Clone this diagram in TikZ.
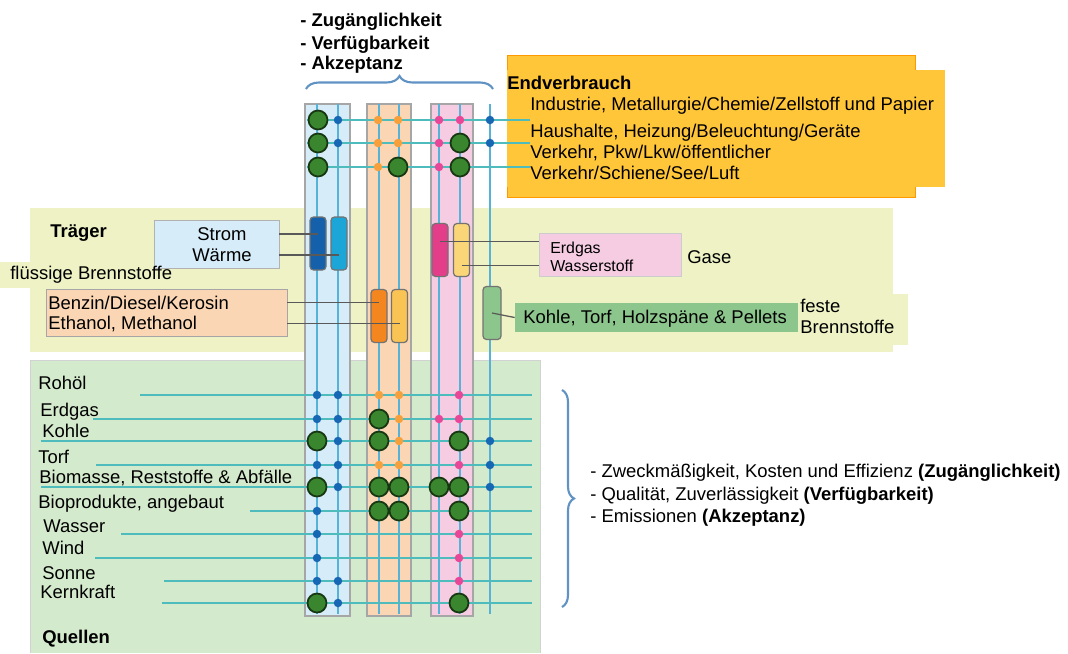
\documentclass[tikz,border=0pt]{standalone}
\usepackage{fontspec}
\setmainfont{Liberation Sans}[Scale=1.05]
\usepackage{xcolor}
\usepackage{tikz}
\usetikzlibrary{positioning, calc, decorations.pathreplacing}

\definecolor{elcol}{RGB}{214,236,248}
\definecolor{liqcol}{RGB}{250,214,180}
\definecolor{gascol}{RGB}{246,204,226}
\definecolor{carrierbg}{RGB}{238,242,196}
\definecolor{sourcebg}{RGB}{212,234,204}
\definecolor{usebg}{RGB}{255,198,58}
\definecolor{gridline}{RGB}{86,178,214}
\definecolor{rowline}{RGB}{78,188,188}
\definecolor{dotblue}{RGB}{22,104,180}
\definecolor{dotorange}{RGB}{246,160,60}
\definecolor{dotpink}{RGB}{232,70,150}
\definecolor{dotgreen}{RGB}{58,134,46}
\definecolor{bracecol}{RGB}{96,146,196}
\definecolor{barblue}{RGB}{20,96,170}
\definecolor{barcyan}{RGB}{28,166,216}
\definecolor{barorange}{RGB}{244,134,32}
\definecolor{baryellow}{RGB}{250,196,84}
\definecolor{barpink}{RGB}{228,62,138}
\definecolor{barcream}{RGB}{250,214,120}
\definecolor{solidgreen}{RGB}{140,198,140}

\begin{document}
\begin{tikzpicture}[x=0.02cm, y=-0.02cm,
    colbox/.style={draw=gray!70, line width=1pt},
    vline/.style={gridline, line width=0.8pt},
    hline/.style={rowline, line width=1pt},
    smalldot/.style={circle, inner sep=0pt, minimum size=0.17cm},
    bigdot/.style={circle, draw=black!60!dotgreen, line width=1pt, fill=dotgreen, inner sep=0pt, minimum size=0.38cm},
    bar/.style={rectangle, rounded corners=2pt, draw=black!55, line width=0.7pt, minimum width=0.32cm, minimum height=1.06cm},
    lead/.style={draw=black!65, line width=0.7pt},
    lbl/.style={inner sep=0pt, anchor=base west},
    gaslbl/.style={inner sep=0pt, anchor=base west, font=\fontsize{8.6}{10}\selectfont}]
    \useasboundingbox (0,0) rectangle (1068,653);
    \fill[white] (0,0) rectangle (1068,653);

    % backgrounds
    \fill[carrierbg] (30,208) rectangle (893,352);
    \fill[carrierbg] (0,262) rectangle (168,288);
    \fill[carrierbg] (798,294) rectangle (908,345);
    \draw[fill=sourcebg, draw=gray!35] (30,653) -- (30,360) -- (540,360) -- (540,653);

    % end use
    \node (use) [fill=usebg, draw=orange!80!yellow, line width=0.8pt, minimum width=8.16cm, minimum height=2.84cm, anchor=north west, inner sep=0pt] at (507,55) {};
    \fill[usebg] (507,70) rectangle (945,187);

    % columns
    \draw[colbox, fill=elcol] (305,104) rectangle (350,616);
    \draw[colbox, fill=liqcol] (367,104) rectangle (411,616);
    \draw[colbox, fill=gascol] (431,104) rectangle (473,616);

    \foreach \x in {317,338,379,399,439,460,490}
        \draw[vline] (\x,104) -- (\x,614);

    \foreach \y in {120,143,167}
        \draw[hline] (307,\y) -- (530,\y);
    \foreach \ys/\y in {140/395, 93/419, 41/441, 96/465, 41/487, 250/511, 121/534, 95/558, 164/581, 162/603}
        \draw[hline] (\ys,\y) -- (532,\y);

    % carriers
    \node (heat) [draw=gray!60, fill=elcol, minimum width=2.5cm, minimum height=0.96cm, inner sep=0pt] at (216.5,244) {};
    \node (strom) [inner sep=0pt] at (222,234) {Strom};
    \node (waerme) [inner sep=0pt] at (222,255) {Wärme};

    \node (liquid) [draw=gray!70, fill=liqcol, minimum width=4.82cm, minimum height=0.94cm, inner sep=0pt] at (166.5,312.5) {};
    \node (benzin) [lbl] at (48,309) {Benzin/Diesel/Kerosin};
    \node (ethanol) [lbl] at (48,329) {Ethanol, Methanol};

    \node (gasbox) [draw=gray!40, fill=gascol, minimum width=2.84cm, minimum height=0.86cm, inner sep=0pt] at (610,254.5) {};
    \node (erdgas) [gaslbl] at (550,253.5) {Erdgas};
    \node (wasserstoff) [gaslbl] at (550,271.5) {Wasserstoff};
    \node (gase) [lbl] at (687,263) {Gase};

    \node (solid) [fill=solidgreen, minimum width=5.66cm, minimum height=0.58cm, inner sep=0pt] at (656.5,317.5) {};
    \node (kohle) [lbl] at (523,323.5) {Kohle, Torf, Holzspäne \& Pellets};
    \node (feste) [lbl] at (800,312.5) {feste};
    \node (brennst) [lbl] at (800,333.5) {Brennstoffe};

    \node (barel) [bar, fill=barblue] at (318,243.5) {};
    \node (barheat) [bar, fill=barcyan] at (339,243.5) {};
    \node (barfuel) [bar, fill=barorange] at (379,316) {};
    \node (baralc) [bar, fill=baryellow] at (399.5,316) {};
    \node (bargas) [bar, fill=barpink] at (440,250) {};
    \node (barhyd) [bar, fill=barcream] at (461.5,250) {};
    \node (barsolid) [bar, fill=solidgreen, minimum width=0.36cm] at (492,313) {};

    \draw[lead] (heat.east |- strom) -- (barel.center |- strom);
    \draw[lead] (heat.east |- waerme) -- (barheat.center |- waerme);
    \draw[lead] (liquid.east |- benzin.center) -- (barfuel.center |- benzin.center);
    \draw[lead] (liquid.east |- ethanol.center) -- (baralc.center |- ethanol.center);
    \draw[lead] (bargas.center |- erdgas.north) -- (gasbox.west |- erdgas.north);
    \draw[lead] (barhyd.center |- wasserstoff) -- (gasbox.west |- wasserstoff);
    \draw[lead] (barsolid.center) -- (solid.west);

    % dots
    \foreach \px/\py in {338/120, 490/120, 338/143, 490/143, 317/395, 338/395, 317/419, 338/419,
        338/441, 490/441, 317/465, 338/465, 490/465, 338/487, 490/487, 317/511, 317/534, 317/558,
        317/581, 338/581, 338/603}
        \node (b-\px-\py) [smalldot, fill=dotblue] at (\px,\py) {};
    \foreach \px/\py in {378/120, 398/120, 378/143, 398/143, 378/167, 379/395, 399/395, 399/419,
        399/441, 379/465, 399/465}
        \node (o-\px-\py) [smalldot, fill=dotorange] at (\px,\py) {};
    \foreach \px/\py in {439/120, 460/120, 439/143, 439/167, 459/395, 439/419, 459/419, 459/465,
        459/534, 459/558, 459/581}
        \node (p-\px-\py) [smalldot, fill=dotpink] at (\px,\py) {};
    \foreach \px/\py in {318/120, 318/143, 318/167, 460/143, 398/167, 460/167, 379/419, 317/441,
        379/441, 459/441, 317/487, 379/487, 399/487, 439/487, 459/487, 379/511, 399/511, 459/511,
        317/603, 459/603}
        \node (g-\px-\py) [bigdot] at (\px,\py) {};

    % labels
    \node (crit1) [lbl, font=\bfseries] at (300,26) {- Zugänglichkeit};
    \node (crit2) [lbl, font=\bfseries] at (300,49) {- Verfügbarkeit};
    \node (crit3) [lbl, font=\bfseries] at (300,69) {- Akzeptanz};
    \draw[bracecol, line width=1.2pt, decorate, decoration={brace, amplitude=0.26cm}] (306,89) -- (493,89);

    \node (usehead) [lbl, font=\bfseries] at (507,89) {Endverbrauch};
    \node (ind) [lbl] at (530,110) {Industrie, Metallurgie/Chemie/Zellstoff und Papier};
    \node (hh) [lbl] at (530,137) {Haushalte, Heizung/Beleuchtung/Geräte};
    \node (tr1) [lbl] at (530,158) {Verkehr, Pkw/Lkw/öffentlicher};
    \node (tr2) [lbl] at (530,179) {Verkehr/Schiene/See/Luft};

    \node (traeger) [lbl, font=\bfseries] at (50,237) {Träger};
    \node (liqlbl) [lbl] at (10,279) {flüssige Brennstoffe};

    \node (src1) [lbl] at (38,389) {Rohöl};
    \node (src2) [lbl] at (40,416) {Erdgas};
    \node (src3) [lbl] at (42,437) {Kohle};
    \node (src4) [lbl] at (38,463) {Torf};
    \node (src5) [lbl] at (39,483) {Biomasse, Reststoffe \& Abfälle};
    \node (src6) [lbl] at (38,508) {Bioprodukte, angebaut};
    \node (src7) [lbl] at (43,532) {Wasser};
    \node (src8) [lbl] at (42,554) {Wind};
    \node (src9) [lbl] at (42,579) {Sonne};
    \node (src10) [lbl] at (40,598) {Kernkraft};
    \node (quellen) [lbl, font=\bfseries] at (42,643) {Quellen};

    \draw[bracecol, line width=1.2pt, decorate, decoration={brace, amplitude=0.24cm}] (562,390) -- (562,607);
    \node (eval1) [lbl] at (590,477) {- Zweckmäßigkeit, Kosten und Effizienz \textbf{(Zugänglichkeit)}};
    \node (eval2) [lbl] at (590,500) {- Qualität, Zuverlässigkeit \textbf{(Verfügbarkeit)}};
    \node (eval3) [lbl] at (590,522) {- Emissionen \textbf{(Akzeptanz)}};
\end{tikzpicture}
\end{document}
